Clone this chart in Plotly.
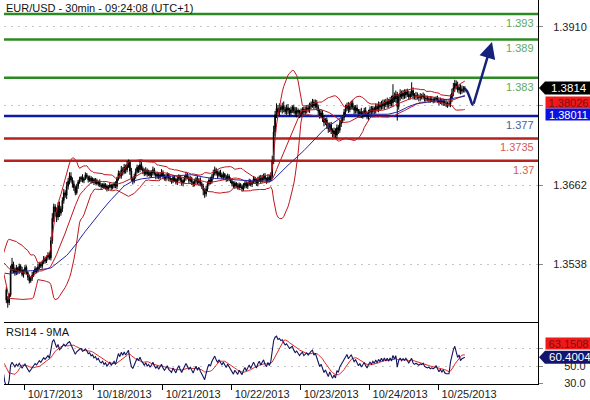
import numpy as np
import pandas as pd
import plotly.graph_objects as go

PIP = 10000.0

# ---- time axis -------------------------------------------------------------
day_labels = ["10/17/2013", "10/18/2013", "10/21/2013", "10/22/2013",
              "10/23/2013", "10/24/2013", "10/25/2013"]
BARS_PER_DAY = 48          # half-hour bars per session day
FIRST_MIDNIGHT_BAR = 13    # bar index of 10/17 00:00

# ---- EUR/USD 30-minute closes, in pips ------------------------------------
# 10/16 bars before the first plotted bar (seed the moving averages / RSI)
history_close = [
    13505, 13500, 13498, 13503, 13508, 13512, 13507, 13502, 13509, 13515,
    13511, 13506, 13510, 13517, 13513, 13508, 13512, 13518, 13522, 13516,
    13512, 13519, 13525, 13521, 13517, 13523, 13529, 13526, 13532, 13528,
    13535, 13540, 13534, 13538, 13545, 13541, 13536, 13542, 13548, 13544,
    13539, 13545, 13551, 13546, 13540, 13544, 13549, 13543, 13520, 13498,
]

close_pips = [
    # 10/16 evening
    13482, 13478, 13490, 13528, 13538, 13530, 13524, 13532, 13527, 13535,
    13529, 13522, 13528,
    # 10/17
    13533, 13525, 13518, 13512, 13516, 13521, 13526, 13531, 13528, 13534,
    13538, 13535, 13541, 13546, 13543, 13549, 13552, 13548, 13575, 13610,
    13628, 13620, 13612, 13630, 13618, 13625, 13638, 13650, 13646, 13660,
    13668, 13676, 13670, 13664, 13658, 13650, 13660, 13667, 13671, 13674,
    13669, 13672, 13678, 13675, 13670, 13673, 13668, 13671,
    # 10/18
    13666, 13669, 13664, 13667, 13662, 13660, 13663, 13658, 13661, 13656,
    13659, 13662, 13658, 13661, 13664, 13660, 13672, 13680, 13676, 13686,
    13682, 13690, 13686, 13694, 13698, 13684, 13672, 13668, 13676, 13683,
    13690, 13686, 13694, 13688, 13684, 13680, 13685, 13679, 13682, 13677,
    13681, 13686, 13680, 13676, 13679, 13674, 13678, 13682,
    # 10/21
    13676, 13672, 13675, 13679, 13673, 13670, 13668, 13674, 13671, 13666,
    13672, 13676, 13670, 13665, 13669, 13673, 13678, 13674, 13669, 13672,
    13667, 13663, 13668, 13672, 13666, 13670, 13664, 13660, 13654, 13648,
    13656, 13664, 13670, 13667, 13675, 13680, 13686, 13681, 13677, 13682,
    13678, 13674, 13679, 13675, 13671, 13676, 13672, 13668,
    # 10/22
    13664, 13660, 13665, 13661, 13658, 13663, 13660, 13656, 13661, 13665,
    13660, 13664, 13668, 13663, 13667, 13672, 13668, 13664, 13670, 13674,
    13669, 13673, 13677, 13671, 13668, 13674, 13670, 13676, 13700, 13745,
    13772, 13782, 13776, 13784, 13780, 13786, 13781, 13777, 13783, 13779,
    13775, 13780, 13784, 13778, 13774, 13779, 13776, 13772,
    # 10/23
    13777, 13781, 13776, 13779, 13783, 13780, 13785, 13789, 13792, 13786,
    13790, 13784, 13778, 13771, 13775, 13766, 13760, 13764, 13755, 13750,
    13757, 13748, 13742, 13747, 13740, 13752, 13748, 13758, 13763, 13768,
    13776, 13782, 13787, 13780, 13785, 13790, 13784, 13779, 13783, 13778,
    13773, 13777, 13771, 13775, 13779, 13774, 13770, 13776,
    # 10/24
    13780, 13777, 13782, 13779, 13785, 13781, 13787, 13784, 13790, 13786,
    13792, 13788, 13793, 13789, 13795, 13791, 13802, 13797, 13804, 13785,
    13800, 13806, 13801, 13806, 13803, 13808, 13804, 13800, 13805, 13810,
    13802, 13800, 13802, 13800, 13799, 13801, 13800, 13802, 13798, 13797,
    13796, 13797, 13795, 13796, 13795, 13796, 13798, 13795,
    # 10/25 morning
    13792, 13794, 13791, 13793, 13790, 13789, 13789, 13789, 13798, 13806,
    13814, 13821, 13817, 13811, 13815, 13809, 13812, 13813, 13814,
]

# wick lengths above / below each candle body, in pips
upper_wick = [
    4, 6, 3, 8, 10, 4, 3, 5, 2, 4,   3, 5, 2, 4, 3, 2, 4, 3, 5, 3,
    4, 2, 5, 3, 4, 3, 5, 4, 3, 5,   4, 6, 8, 5, 4, 7, 5, 6, 4, 5,
    6, 4, 7, 5, 6, 6, 4, 5, 3, 4,   3, 4, 2, 5, 3, 4, 3, 2, 4, 3,
    3, 2, 4, 3, 2, 4, 3, 2, 3, 4,   2, 3, 4, 2, 3, 3, 4, 3, 5, 4,
    6, 4, 5, 4, 6, 4, 3, 5, 3, 4,   5, 4, 3, 6, 4, 3, 4, 5, 3, 4,
    3, 4, 5, 3, 2, 4, 3, 4, 5, 3,   3, 4, 3, 2, 4, 3, 4, 3, 2, 4,
    3, 2, 4, 3, 4, 5, 3, 2, 4, 3,   2, 4, 3, 5, 3, 4, 3, 4, 3, 5,
    4, 3, 5, 4, 6, 5, 3, 4, 3, 4,   3, 4, 2, 3, 4, 3, 2, 3, 4, 3,
    2, 4, 3, 2, 3, 4, 3, 2, 3, 4,   3, 2, 4, 3, 4, 5, 3, 4, 5, 3,
    4, 3, 5, 4, 6, 8, 10, 6, 8, 5,  6, 4, 5, 7, 4, 5, 6, 4, 5, 3,
    4, 6, 5, 3, 4, 5, 3, 4, 6, 4,   5, 6, 4, 5, 4, 6, 5, 4, 3, 5,
    4, 5, 3, 4, 5, 3, 4, 3, 5, 4,   5, 4, 6, 5, 4, 5, 6, 4, 5, 6,
    4, 5, 3, 4, 5, 3, 4, 6, 3, 4,   5, 3, 4, 5, 6, 4, 3, 5, 4, 6,
    5, 4, 6, 4, 5, 6, 4, 5, 7, 18,  5, 6, 4, 5, 6, 4, 5, 6, 4, 5,
    6, 4, 13, 5, 4, 6, 5, 4, 5, 4,  5, 3, 4, 5, 3, 4, 5, 3, 4, 3,
    4, 3, 5, 3, 4, 3, 5, 4, 5, 6,   7, 8, 6, 5, 7, 4, 5, 6, 4, 3,
]
lower_wick = [
    5, 8, 4, 3, 4, 6, 4, 3, 5, 4,   4, 3, 5, 4, 3, 5, 4, 3, 4, 3,
    3, 4, 3, 4, 3, 4, 3, 4, 3, 4,   3, 4, 5, 6, 7, 8, 5, 6, 4, 5,
    5, 4, 6, 5, 5, 4, 6, 5, 4, 3,   4, 3, 4, 3, 4, 2, 3, 4, 3, 4,
    3, 4, 3, 2, 4, 3, 4, 3, 2, 3,   4, 3, 2, 4, 3, 4, 3, 4, 3, 4,
    4, 5, 3, 6, 4, 5, 6, 4, 5, 3,   4, 3, 5, 4, 3, 5, 4, 3, 4, 3,
    4, 3, 4, 3, 5, 4, 3, 4, 3, 4,   3, 4, 3, 5, 3, 4, 3, 4, 3, 4,
    4, 3, 4, 5, 3, 4, 3, 4, 3, 5,   4, 3, 4, 3, 5, 4, 4, 8, 6, 4,
    4, 3, 4, 3, 4, 3, 4, 5, 3, 4,   3, 4, 3, 4, 3, 4, 3, 4, 3, 4,
    4, 3, 4, 3, 4, 3, 4, 3, 4, 3,   3, 4, 3, 4, 3, 4, 3, 4, 3, 4,
    3, 4, 3, 4, 3, 4, 5, 6, 5, 6,   5, 4, 6, 5, 4, 5, 6, 5, 4, 5,
    4, 5, 6, 4, 5, 4, 5, 6, 4, 5,   4, 5, 4, 6, 5, 4, 5, 6, 5, 4,
    5, 6, 4, 5, 6, 5, 6, 5, 6, 4,   5, 6, 4, 5, 4, 5, 6, 4, 5, 4,
    5, 4, 6, 5, 4, 5, 6, 4, 5, 6,   4, 5, 6, 4, 5, 4, 6, 5, 4, 5,
    6, 4, 5, 6, 4, 5, 6, 4, 6, 6,   5, 6, 22, 5, 6, 4, 5, 6, 5, 4,
    5, 4, 5, 6, 4, 5, 4, 6, 5, 4,   4, 5, 4, 3, 5, 4, 3, 5, 4, 3,
    4, 5, 3, 4, 5, 4, 5, 6, 4, 5,   6, 5, 6, 5, 4, 6, 5, 4, 5, 6,
]

# ---- support / resistance levels ------------------------------------------
level_prices = [1.393, 1.389, 1.383, 1.377, 1.3735, 1.37]
level_labels = ["1.393", "1.389", "1.383", "1.377", "1.3735", "1.37"]

price_ticks = [1.3910, 1.3786, 1.3662, 1.3538]
price_tick_text = ["1.3910", "", "1.3662", "1.3538"]   # 1.3786 sits under the value tags
rsi_ticks = [30, 50, 70]
rsi_tick_text = ["30.0", "50.0", ""]                    # 70.0 sits under the MA tag

# projected path: dip then push towards the upper resistance
forecast_bar = [319.0, 320.8, 322.6, 324.0, 324.8]
forecast_price = [1.3813, 1.3808, 1.3798, 1.3789, 1.3787]
target_bar = 337.9
target_price = 1.3886

# ---- styles ----------------------------------------------------------------
level_line_colors = ["#2b8a23", "#2b8a23", "#2b8a23", "#0d1aa8", "#b5221f", "#b5221f"]
level_text_colors = ["#62a862", "#62a862", "#62a862", "#4a5c9c", "#d25a5a", "#d25a5a"]
BB_COLOR = "#bf161e"
SMA_COLOR = "#2424a6"
RSI_COLOR = "#14145e"
RSI_MA_COLOR = "#e02828"
ARROW_COLOR = "#16217a"
FONT = "Arial, Liberation Sans, sans-serif"

# ---- derived series --------------------------------------------------------
n = len(close_pips)
bars = np.arange(n)
c = np.array(close_pips, float)
o = np.concatenate([[history_close[-1]], c[:-1]])
hi = np.maximum(o, c) + np.array(upper_wick[:n])
lo = np.minimum(o, c) - np.array(lower_wick[:n])

series = pd.Series(np.array(history_close + close_pips, float))
x_all = np.arange(-len(history_close), n)

bb_mid = series.rolling(20).mean()
bb_dev = series.rolling(20).std(ddof=0)
bb_up = bb_mid + 2 * bb_dev
bb_lo = bb_mid - 2 * bb_dev
sma50 = series.rolling(50).mean()

delta = series.diff()
gain = delta.clip(lower=0)
loss = (-delta).clip(lower=0)
avg_gain = gain.ewm(alpha=1 / 14, adjust=False, min_periods=14).mean()
avg_loss = loss.ewm(alpha=1 / 14, adjust=False, min_periods=14).mean()
rsi = 100 - 100 / (1 + avg_gain / avg_loss)
rsi_ma = rsi.rolling(9).mean()

last_close = c[-1] / PIP
last_mid = bb_mid.iloc[-1] / PIP
last_sma = sma50.iloc[-1] / PIP
last_rsi = rsi.iloc[-1]
last_rsi_ma = rsi_ma.iloc[-1]

# ---- geometry --------------------------------------------------------------
W, H = 590, 400
ML, MR, MT, MB = 4, 52, 0, 12
PLOT_W = W - ML - MR
PLOT_H = H - MT - MB
SPLIT_PX = 326                       # border between price and RSI panes
rsi_top = (PLOT_H - SPLIT_PX) / PLOT_H
price_range = [1.344658, 1.395185]
rsi_range = [29.5, 100.5]
x_range = [-1.6, 369.9]

day_starts = [FIRST_MIDNIGHT_BAR + BARS_PER_DAY * k for k in range(len(day_labels))]
label_pos = [d + 21 for d in day_starts]


def px_to_paper_x(px):
    return (px - ML) / PLOT_W


price_per_px = (price_range[1] - price_range[0]) / SPLIT_PX
rsi_per_px = (rsi_range[1] - rsi_range[0]) / (PLOT_H - SPLIT_PX)

fig = go.Figure()

# Bollinger bands + 50 SMA
for band in (bb_up, bb_mid, bb_lo):
    fig.add_trace(go.Scatter(x=x_all, y=band / PIP, mode="lines",
                             line=dict(color=BB_COLOR, width=1), xaxis="x", yaxis="y"))
fig.add_trace(go.Scatter(x=x_all, y=sma50 / PIP, mode="lines",
                         line=dict(color=SMA_COLOR, width=1), xaxis="x", yaxis="y"))

fig.add_trace(go.Candlestick(
    x=bars, open=o / PIP, high=hi / PIP, low=lo / PIP, close=c / PIP,
    increasing=dict(line=dict(color="black", width=1), fillcolor="black"),
    decreasing=dict(line=dict(color="black", width=1), fillcolor="black"),
    whiskerwidth=0, xaxis="x", yaxis="y", hoverinfo="skip"))

fig.add_trace(go.Scatter(x=forecast_bar, y=forecast_price, mode="lines",
                         line=dict(color=ARROW_COLOR, width=2.5, shape="spline"),
                         xaxis="x", yaxis="y"))

# RSI pane
fig.add_trace(go.Scatter(x=x_all, y=rsi_ma, mode="lines",
                         line=dict(color=RSI_MA_COLOR, width=1), xaxis="x2", yaxis="y2"))
fig.add_trace(go.Scatter(x=x_all, y=rsi, mode="lines",
                         line=dict(color=RSI_COLOR, width=1.1), xaxis="x2", yaxis="y2"))

shapes = []
annotations = []
for p, txt, lc, tc in zip(level_prices, level_labels, level_line_colors, level_text_colors):
    shapes.append(dict(type="line", xref="paper", yref="y", x0=0, x1=1, y0=p, y1=p,
                       line=dict(color=lc, width=2.5), layer="between"))
    annotations.append(dict(xref="paper", yref="y", x=px_to_paper_x(536), y=p,
                            xanchor="right", yanchor="top", yshift=-1, showarrow=False,
                            text=txt, font=dict(family=FONT, size=11, color=tc)))

# forecast arrow head
annotations.append(dict(xref="x", yref="y", axref="x", ayref="y",
                        x=target_bar, y=target_price, ax=forecast_bar[-1], ay=forecast_price[-1],
                        showarrow=True, arrowhead=2, arrowsize=1.3, arrowwidth=2.5,
                        arrowcolor=ARROW_COLOR, text=""))

# value tags on the right-hand scale
tip_x = px_to_paper_x(539)
box_x = px_to_paper_x(545)
end_x = px_to_paper_x(592)


def pointer_path(yc, half):
    return (f"M {tip_x},{yc} L {box_x},{yc + half} L {end_x},{yc + half} "
            f"L {end_x},{yc - half} L {box_x},{yc - half} Z")


shapes.append(dict(type="path", xref="paper", yref="y",
                   path=pointer_path(last_close, 6.5 * price_per_px),
                   fillcolor="black", line=dict(width=0), layer="above"))
annotations.append(dict(xref="paper", yref="y", x=px_to_paper_x(549), y=last_close,
                        xanchor="left", yanchor="middle", showarrow=False,
                        text=f"{last_close:.4f}", font=dict(family=FONT, size=11.5, color="white")))
annotations.append(dict(xref="paper", yref="y", x=box_x, y=last_close, yshift=-14.5,
                        xanchor="left", yanchor="middle", showarrow=False, width=45, height=11,
                        borderpad=0, bgcolor="#f01818", align="center",
                        text=f"{last_mid:.5f}", font=dict(family=FONT, size=11, color="#7a1010")))
annotations.append(dict(xref="paper", yref="y", x=box_x, y=last_close, yshift=-26.5,
                        xanchor="left", yanchor="middle", showarrow=False, width=45, height=11,
                        borderpad=0, bgcolor="#0b12e0", align="center",
                        text=f"{last_sma:.5f}", font=dict(family=FONT, size=11, color="white")))

shapes.append(dict(type="path", xref="paper", yref="y2",
                   path=pointer_path(last_rsi, 6.5 * rsi_per_px),
                   fillcolor="#14146e", line=dict(width=0), layer="above"))
annotations.append(dict(xref="paper", yref="y2", x=px_to_paper_x(547), y=last_rsi,
                        xanchor="left", yanchor="middle", showarrow=False,
                        text=f"{last_rsi:.4f}", font=dict(family=FONT, size=11.5, color="white")))
annotations.append(dict(xref="paper", yref="y2", x=box_x, y=last_rsi, yshift=14,
                        xanchor="left", yanchor="middle", showarrow=False, width=45, height=11,
                        borderpad=0, bgcolor="#f01818", align="center",
                        text=f"{last_rsi_ma:.4f}", font=dict(family=FONT, size=11, color="#7a1010")))

# pane captions
annotations.append(dict(xref="paper", yref="paper", x=0, y=1, xanchor="left", yanchor="top",
                        yshift=0, showarrow=False, text="EUR/USD - 30min - 09:24:08 (UTC+1)",
                        font=dict(family=FONT, size=11, color="#111")))
annotations.append(dict(xref="paper", yref="paper", x=0, y=rsi_top, xanchor="left", yanchor="top",
                        yshift=-1, showarrow=False, text="RSI14 - 9MA",
                        font=dict(family=FONT, size=11, color="#111")))

grid = dict(showgrid=True, gridcolor="#c4c4c4", griddash="2px,5px", gridwidth=1)

fig.update_layout(
    width=W, height=H, margin=dict(l=ML, r=MR, t=MT, b=MB),
    paper_bgcolor="white", plot_bgcolor="white", showlegend=False, hovermode=False,
    font=dict(family=FONT, size=11, color="#222"),
    xaxis=dict(domain=[0, 1], anchor="y", range=x_range, showticklabels=False, ticks="",
               showgrid=False, zeroline=False, showline=False,
               rangeslider=dict(visible=False)),
    yaxis=dict(domain=[rsi_top, 1], anchor="x", side="right", range=price_range,
               tickmode="array", tickvals=price_ticks, ticktext=price_tick_text,
               ticks="outside", ticklen=4, tickcolor="#888", ticklabelstandoff=8,
               showline=True, linecolor="black", linewidth=1, zeroline=False, **grid),
    xaxis2=dict(domain=[0, 1], anchor="y2", matches="x", range=x_range,
                tickmode="array", tickvals=label_pos, ticktext=day_labels, ticks="",
                showline=True, linecolor="black", linewidth=1, mirror=True,
                showgrid=False, zeroline=False,
                minor=dict(tickmode="array", tickvals=day_starts, ticks="outside",
                           ticklen=5, tickcolor="black", showgrid=False)),
    yaxis2=dict(domain=[0, rsi_top], anchor="x2", side="right", range=rsi_range,
                tickmode="array", tickvals=rsi_ticks, ticktext=rsi_tick_text,
                ticks="outside", ticklen=4, tickcolor="#888", ticklabelstandoff=19,
                showline=True, linecolor="black", linewidth=1, zeroline=False, **grid),
    shapes=shapes,
    annotations=annotations,
)

fig.write_html("out.html")
